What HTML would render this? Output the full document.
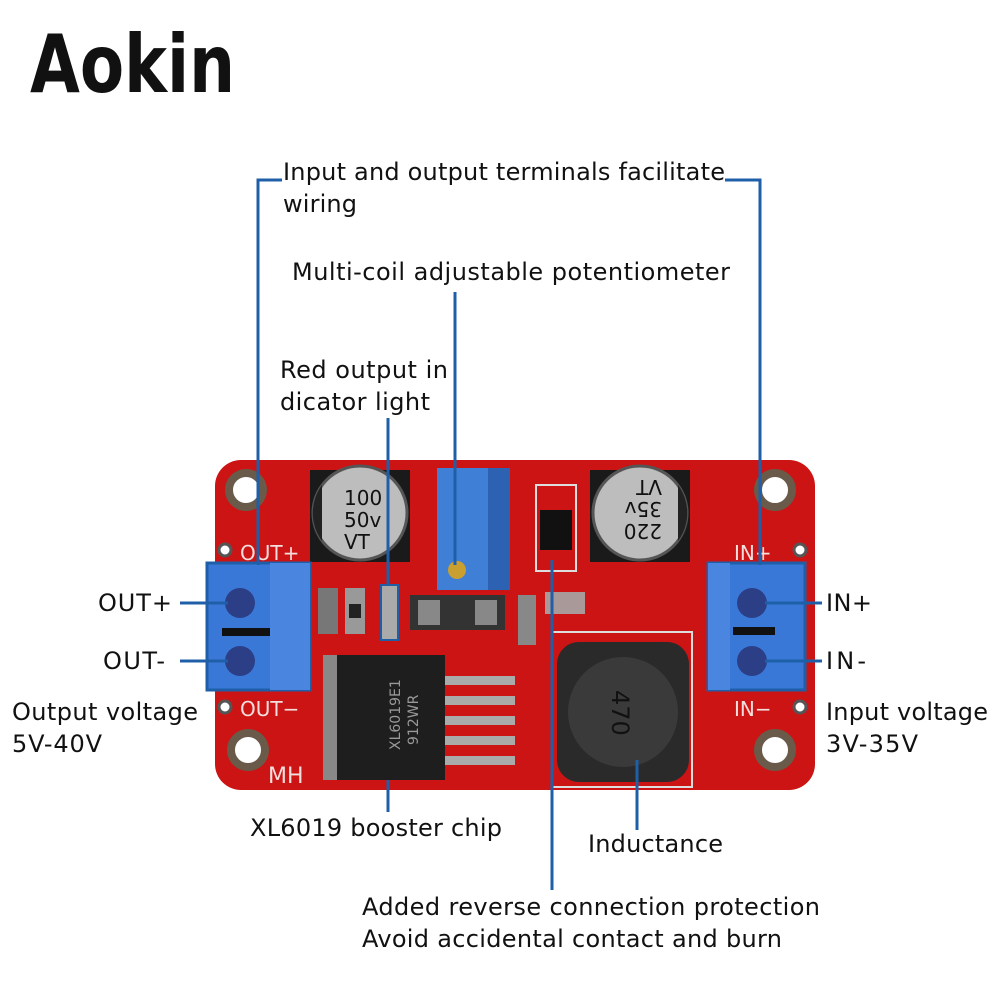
<!DOCTYPE html>
<html><head><meta charset="utf-8"><style>
html,body{margin:0;padding:0;background:#fff;width:1000px;height:1000px;overflow:hidden}
svg{display:block}
text{font-family:"DejaVu Sans","Liberation Sans",sans-serif;fill:#111}
</style></head><body>
<svg width="1000" height="1000" viewBox="0 0 1000 1000" xmlns="http://www.w3.org/2000/svg">
<text x="30" y="92" font-size="80" textLength="205" lengthAdjust="spacingAndGlyphs" style="font-family:'DejaVu Sans',sans-serif" font-weight="bold">Aokin</text>

<rect x="215" y="460" width="600" height="330" rx="26" fill="#cc1414"/>
<g fill="#fff" stroke="#6a5a4a" stroke-width="8">
<circle cx="246" cy="490" r="17"/><circle cx="775" cy="490" r="17"/>
<circle cx="248" cy="750" r="17"/><circle cx="775" cy="750" r="17"/>
</g>
<g fill="#fff" stroke="#555" stroke-width="3">
<circle cx="225" cy="550" r="6"/><circle cx="800" cy="550" r="6"/>
<circle cx="225" cy="707" r="6"/><circle cx="800" cy="707" r="6"/>
</g>
<text x="240" y="560" font-size="20" style="fill:#f3dede">OUT+</text>
<text x="240" y="716" font-size="20" style="fill:#f3dede">OUT−</text>
<text x="734" y="560" font-size="20" style="fill:#f3dede">IN+</text>
<text x="734" y="716" font-size="20" style="fill:#f3dede">IN−</text>
<text x="268" y="783" font-size="22" style="fill:#f3dede">MH</text>

<rect x="310" y="470" width="100" height="92" fill="#1a1a1a"/>
<circle cx="360" cy="513" r="47" fill="#bdbdbd" stroke="#555" stroke-width="3"/>
<path d="M322 485 A47 47 0 0 0 322 541 Z" fill="#222"/>
<text x="344" y="505" font-size="20">100</text>
<text x="344" y="527" font-size="20">50v</text>
<text x="344" y="549" font-size="20">VT</text>
<rect x="590" y="470" width="100" height="92" fill="#1a1a1a"/>
<circle cx="640" cy="513" r="47" fill="#bdbdbd" stroke="#555" stroke-width="3"/>
<path d="M678 485 A47 47 0 0 1 678 541 Z" fill="#222"/>
<text x="0" y="0" font-size="20" transform="translate(662,480) rotate(180)">VT</text>
<text x="0" y="0" font-size="20" transform="translate(662,502) rotate(180)">35v</text>
<text x="0" y="0" font-size="20" transform="translate(662,524) rotate(180)">220</text>

<rect x="437" y="468" width="73" height="122" fill="#3f7fd6"/>
<rect x="488" y="468" width="22" height="122" fill="#2d62b3"/>
<circle cx="457" cy="570" r="9" fill="#c9a030"/>

<rect x="536" y="485" width="40" height="86" fill="none" stroke="#ddd" stroke-width="2"/>
<rect x="540" y="510" width="32" height="40" fill="#111"/>

<rect x="318" y="588" width="20" height="46" fill="#777"/>
<rect x="345" y="588" width="20" height="46" fill="#999"/>
<rect x="349" y="604" width="12" height="14" fill="#222"/>
<rect x="381" y="585" width="17" height="55" fill="#aaa" stroke="#1f5fa8" stroke-width="2"/>
<rect x="410" y="595" width="95" height="35" fill="#333"/>
<rect x="418" y="600" width="22" height="25" fill="#888"/>
<rect x="475" y="600" width="22" height="25" fill="#888"/>
<rect x="518" y="595" width="18" height="50" fill="#888"/>
<rect x="545" y="592" width="40" height="22" fill="#a99"/>

<rect x="323" y="655" width="122" height="125" fill="#1e1e1e"/>
<rect x="323" y="655" width="14" height="125" fill="#888"/>
<g fill="#aaa">
<rect x="445" y="676" width="70" height="9"/><rect x="445" y="696" width="70" height="9"/>
<rect x="445" y="716" width="70" height="9"/><rect x="445" y="736" width="70" height="9"/>
<rect x="445" y="756" width="70" height="9"/>
</g>
<text x="0" y="0" font-size="14" style="fill:#999" transform="translate(400,750) rotate(-90)">XL6019E1</text>
<text x="0" y="0" font-size="14" style="fill:#999" transform="translate(418,745) rotate(-90)">912WR</text>

<rect x="552" y="632" width="140" height="155" fill="none" stroke="#ddd" stroke-width="2"/>
<rect x="557" y="642" width="132" height="140" rx="22" fill="#2a2a2a"/>
<circle cx="623" cy="712" r="55" fill="#3a3a3a"/>
<text x="0" y="0" font-size="24" style="fill:#111" transform="translate(612,690) rotate(90)">470</text>

<rect x="207" y="563" width="103" height="127" fill="#3a78d8" stroke="#1f5fa8" stroke-width="3"/>
<rect x="270" y="563" width="40" height="127" fill="#4a86e0"/>
<rect x="222" y="628" width="48" height="8" fill="#111"/>
<circle cx="240" cy="603" r="15" fill="#2c3f86"/><circle cx="240" cy="661" r="15" fill="#2c3f86"/>
<rect x="708" y="563" width="97" height="127" fill="#3a78d8" stroke="#1f5fa8" stroke-width="3"/>
<rect x="708" y="563" width="22" height="127" fill="#4a86e0"/>
<rect x="733" y="627" width="42" height="8" fill="#111"/>
<circle cx="752" cy="603" r="15" fill="#2c3f86"/><circle cx="752" cy="661" r="15" fill="#2c3f86"/>

<g stroke="#1f5fa8" stroke-width="3" fill="none">
<polyline points="282,180 258,180 258,565"/>
<polyline points="725,180 760,180 760,565"/>
<line x1="455" y1="292" x2="455" y2="565"/>
<line x1="388" y1="418" x2="388" y2="586"/>
<line x1="388" y1="780" x2="388" y2="812"/>
<line x1="552" y1="560" x2="552" y2="890"/>
<line x1="637" y1="760" x2="637" y2="830"/>
<line x1="180" y1="603" x2="228" y2="603"/>
<line x1="180" y1="661" x2="228" y2="661"/>
<line x1="765" y1="603" x2="822" y2="603"/>
<line x1="765" y1="661" x2="822" y2="661"/>
</g>

<g font-size="24" lengthAdjust="spacingAndGlyphs">
<text x="283" y="180" textLength="442">Input and output terminals facilitate</text>
<text x="283" y="212" textLength="74">wiring</text>
<text x="292" y="280" textLength="438">Multi-coil adjustable potentiometer</text>
<text x="280" y="378" textLength="168">Red output in</text>
<text x="280" y="410" textLength="150">dicator light</text>
<text x="98" y="611" textLength="74">OUT+</text>
<text x="103" y="669" textLength="62">OUT-</text>
<text x="826" y="611" textLength="46">IN+</text>
<text x="826" y="669" textLength="40">IN-</text>
<text x="12" y="720" textLength="186">Output voltage</text>
<text x="12" y="752" textLength="90">5V-40V</text>
<text x="826" y="720" textLength="162">Input voltage</text>
<text x="826" y="752" textLength="92">3V-35V</text>
<text x="250" y="836" textLength="252">XL6019 booster chip</text>
<text x="588" y="852" textLength="135">Inductance</text>
<text x="362" y="915" textLength="458">Added reverse connection protection</text>
<text x="362" y="947" textLength="420">Avoid accidental contact and burn</text>
</g>
</svg>
</body></html>
